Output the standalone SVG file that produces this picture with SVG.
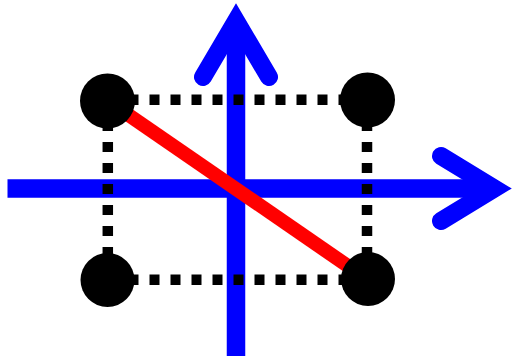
<svg xmlns="http://www.w3.org/2000/svg" width="512" height="356" viewBox="0 0 512 356">
<style>
.axis{stroke:#0000ff;stroke-width:18.5;fill:none}
.head{stroke:#0000ff;stroke-width:18;fill:none;stroke-linecap:round;stroke-linejoin:miter;stroke-miterlimit:10}
.dot{stroke:#000;stroke-width:10.5;stroke-dasharray:10 11;fill:none}
.pt{fill:#000}
</style>
<rect width="512" height="356" fill="#fff"/>
<g id="connectors">
<line class="axis" x1="7.5" y1="188.5" x2="494" y2="188.5"/>
<polyline class="head" points="441,156 494.5,188.5 441,221"/>
<line class="axis" x1="236" y1="356" x2="236" y2="21"/>
<polyline class="head" points="203,77 236,21 269,77"/>
<line x1="107.5" y1="100.5" x2="367.5" y2="279.5" stroke="#ff0000" stroke-width="14"/>
<line class="dot" x1="107.5" y1="99.7" x2="367.5" y2="99.7"/>
<line class="dot" x1="107.5" y1="279.7" x2="367.5" y2="279.7"/>
<line class="dot" x1="107.8" y1="100" x2="107.8" y2="280"/>
<line class="dot" x1="367" y1="100" x2="367" y2="280"/>
</g>
<g id="p1"><circle class="pt" cx="107.5" cy="101" r="27.5"/></g>
<g id="p2"><circle class="pt" cx="367.5" cy="100" r="27.5"/></g>
<g id="p3"><circle class="pt" cx="107.5" cy="280" r="27"/></g>
<g id="p4"><circle class="pt" cx="368" cy="279" r="27"/></g>
</svg>
